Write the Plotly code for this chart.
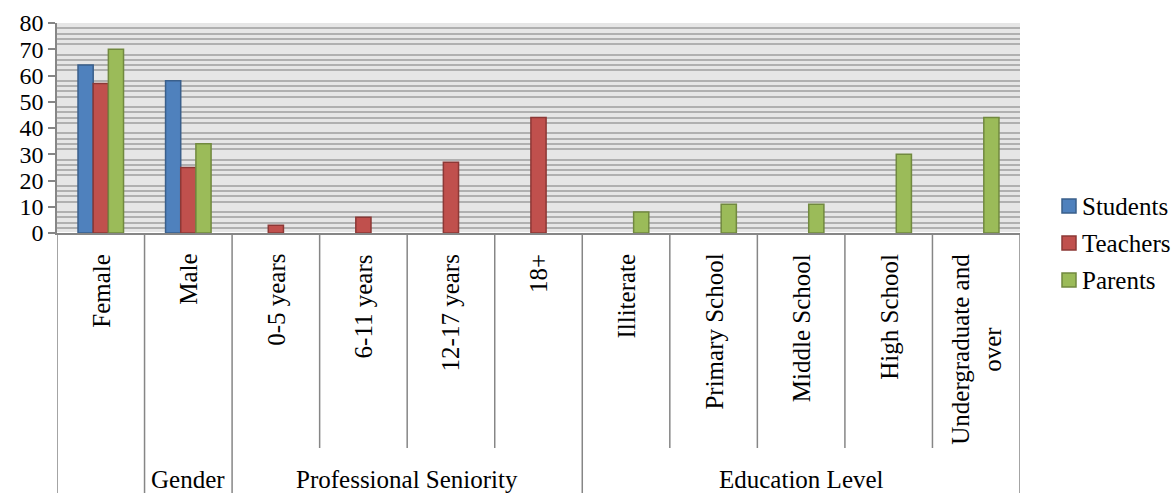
import plotly.graph_objects as go

categories = ["Female", "Male", "0-5 years", "6-11 years", "12-17 years", "18+",
              "Illiterate", "Primary School", "Middle School", "High School",
              "Undergraduate and<br>over"]
groups = [("", 1), ("Gender", 1), ("Professional Seniority", 4), ("Education Level", 5)]

students = [64, 58, None, None, None, None, None, None, None, None, None]
teachers = [57, 25, 3, 6, 27, 44, None, None, None, None, None]
parents = [70, 34, None, None, None, None, 8, 11, 11, 30, 44]

series = [
    ("Students", students, "#4F81BD", "#3A5F8B"),
    ("Teachers", teachers, "#C0504D", "#8C3836"),
    ("Parents", parents, "#9BBB59", "#71893F"),
]

FONT = "Liberation Serif"
W, H = 1175, 493
ML, MR, MT, MB = 57, 155, 23, 260
plot_w = W - ML - MR
plot_h = H - MT - MB


def px_x(px):
    return (px - ML) / plot_w


def px_y(py):
    return (H - MB - py) / plot_h


fig = go.Figure()
for name, vals, col, edge in series:
    fig.add_trace(go.Bar(
        name=name, x=categories, y=vals,
        marker=dict(color=col, line=dict(color=edge, width=1.5)),
        showlegend=False,
    ))

axis_col = "#868686"
fig.update_layout(
    width=W, height=H,
    margin=dict(l=ML, r=MR, t=MT, b=MB, autoexpand=False),
    paper_bgcolor="white", plot_bgcolor="#E6E6E6",
    barmode="group", bargap=0.48, bargroupgap=0,
    font=dict(family=FONT, size=25, color="black"),
    showlegend=False,
    xaxis=dict(type="category", categoryorder="array", categoryarray=categories,
               range=[-0.5, len(categories) - 0.5],
               showticklabels=False, ticks="", showgrid=False,
               showline=True, linecolor=axis_col, linewidth=1.5),
    yaxis=dict(range=[0, 80], dtick=10, showgrid=False,
               ticks="outside", ticklen=7, tickcolor=axis_col, tickwidth=1.5,
               showline=True, linecolor=axis_col, linewidth=1.5,
               tickfont=dict(family=FONT, size=24, color="black"),
               minor=dict(dtick=2, showgrid=True, gridcolor="#B0B0B0", gridwidth=1.6)),
)

bottom_full = px_y(H)
bottom_short = px_y(448)

shapes = []
idx = 0
boundaries_full = {-0.5}
for gname, n in groups:
    idx += n
    boundaries_full.add(idx - 0.5)
shapes.append(dict(type="line", xref="x", yref="paper", x0=-0.5, x1=-0.5, y0=0, y1=bottom_full,
                   line=dict(color=axis_col, width=1.5)))
for i in range(len(categories)):
    b = i + 0.5
    full = b in boundaries_full
    shapes.append(dict(type="line", xref="x", yref="paper", x0=b, x1=b, y0=0,
                       y1=bottom_full if full else bottom_short,
                       line=dict(color=axis_col, width=1.5)))

# legend (swatches + labels)
for k, (name, vals, col, edge) in enumerate(series):
    cy = 206 + 37 * k
    shapes.append(dict(type="rect", xref="paper", yref="paper",
                       x0=px_x(1062), x1=px_x(1076), y0=px_y(cy + 7), y1=px_y(cy - 7),
                       fillcolor=col, line=dict(color=edge, width=1.5)))
    fig.add_annotation(x=px_x(1080), xref="paper", y=px_y(cy), yref="paper",
                       text=name, xanchor="left", yanchor="middle", showarrow=False,
                       font=dict(family=FONT, size=25, color="black"))
fig.update_layout(shapes=shapes)

for i, c in enumerate(categories):
    fig.add_annotation(x=i, xref="x", y=px_y(252), yref="paper",
                       text=c, textangle=-90, xanchor="center", yanchor="top",
                       showarrow=False, align="center",
                       font=dict(family=FONT, size=25, color="black"))

start = 0
for gname, n in groups:
    if gname:
        fig.add_annotation(x=start + (n - 1) / 2, xref="x", y=px_y(479), yref="paper",
                           text=gname, xanchor="center", yanchor="middle", showarrow=False,
                           font=dict(family=FONT, size=25, color="black"))
    start += n

fig.write_html("out.html")
